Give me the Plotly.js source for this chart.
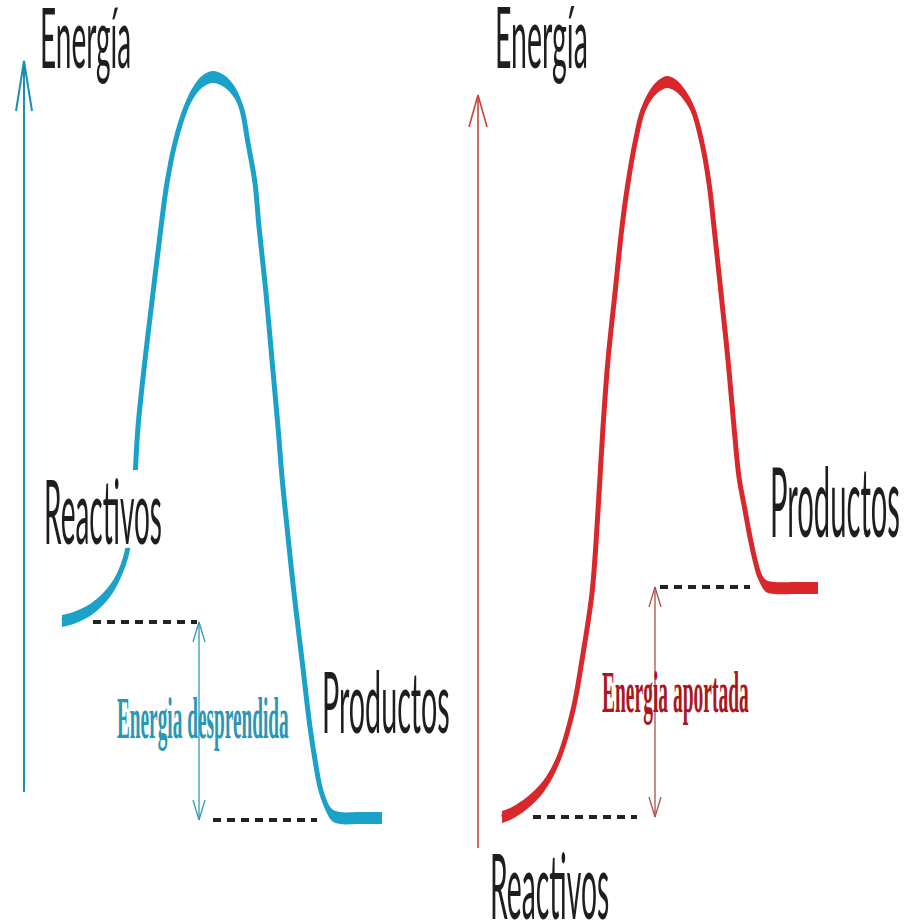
<!DOCTYPE html>
<html>
<head>
<meta charset="utf-8">
<script src="https://cdn.plot.ly/plotly-3.0.1.min.js"></script>
<style>
html,body{margin:0;padding:0;background:#fff;}
#chart{width:915px;height:923px;}
g.annotation text.annotation-text, g.annotation rect.bg{transform-box:fill-box;transform-origin:50% 50%;}
</style>
</head>
<body>
<div id="chart"></div>
<script>
// ---- Data (y grows downward, pixel-like units) ----
// Exothermic reaction path (left, blue)
const blueX = [62,76,90,102,112,120,126,130,133,135,138,145,153,161,167,175,185,193,203,213,224,235,242,248,255,259,266,272,278,282,287,294,302,310,315,320,326,332,340,360,382];
const blueY = [621,617,610,600,588,573,556,535,510,477,427,360,293,227,183,143,110,93,81,77,81,93,110,143,183,227,293,360,427,477,527,593,660,727,760,787,805,815,818,818,818];
// Endothermic reaction path (right, red)
const redX = [502,512,527,543,558,573,582,592,597,600,603,608,615,622,628,635,643,652,660,667,675,683,693,702,709,714,721,728,734,739,745,750,755,760,766,775,795,818];
const redY = [817,813,803,787,760,710,660,593,527,477,427,360,293,227,183,143,110,93,85,82,85,93,110,143,183,227,293,360,427,477,510,537,560,577,586,588,588,588];
// Energy levels (reactants, products)
const blueLevels = [622, 820];
const redLevels = [817, 587];
// Labels
const labelTexts = ["Energía","Energía","Reactivos","Productos","Productos","Reactivos","Energia desprendida","Energia aportada"];

// ---- Styles / layout helpers ----
const BLUE = '#1aa2c9', RED = '#d9272b';
const BLUE_AX = '#1c8db5', RED_AX = '#c9443a';
const BAND = 6; // half vertical thickness of the (vertically stretched) stroke

const traces = [];
function ribbon(xs, ys, color){
  const ln = {width:0, shape:'spline', smoothing:1, color:color};
  traces.push({x:xs, y:ys.map(v=>v-BAND), mode:'lines', line:ln, hoverinfo:'skip'});
  traces.push({x:xs, y:ys.map(v=>v+BAND), mode:'lines', fill:'tonexty', fillcolor:color, line:ln, hoverinfo:'skip'});
  traces.push({x:xs, y:ys, mode:'lines', line:{width:5, shape:'spline', smoothing:1, color:color}, hoverinfo:'skip'});
}
ribbon(blueX, blueY, BLUE);
ribbon(redX, redY, RED);

// Axis arrows (vertical energy axes with open arrowheads)
function axisArrow(x, top, bottom, color, w, wingDx, wingDy){
  traces.push({x:[x,x,null,x-wingDx,x,x+wingDx], y:[bottom,top,null,top+wingDy,top,top+wingDy], mode:'lines', line:{color:color, width:w}, hoverinfo:'skip'});
}
axisArrow(24, 61, 792, BLUE_AX, 2, 8, 50);
axisArrow(478, 95, 848, RED_AX, 1.6, 9, 32);

// Double-headed energy difference arrows, spanning the two levels
function doubleArrow(x, levels, color){
  const top = Math.min(levels[0], levels[1]), bot = Math.max(levels[0], levels[1]);
  const dx = 6, dy = 20;
  traces.push({x:[x,x,null,x-dx,x,x+dx,null,x-dx,x,x+dx],
               y:[top,bot,null,top+dy,top,top+dy,null,bot-dy,bot,bot-dy],
               mode:'lines', line:{color:color, width:1.3}, hoverinfo:'skip'});
}
doubleArrow(199, blueLevels, '#3598b2');
doubleArrow(655, redLevels, '#a9524a');

// Dashed level lines
function dashed(x0, x1, y){
  traces.push({x:[x0,x1], y:[y,y], mode:'lines', line:{color:'#222', width:4, dash:'8px,6px'}, hoverinfo:'skip'});
}
dashed(93, 197, blueLevels[0]);
dashed(213, 317, blueLevels[1]);
dashed(533, 637, redLevels[0]);
dashed(660, 750, redLevels[1]);

// Labels
function sans(size){ return {family:'Lato, "Open Sans", sans-serif', size:size, color:'#1e1e1e'}; }
const labelPos = [
  {x:38, y:35, s:3.0, f:sans(28)},
  {x:493, y:35, s:3.0, f:sans(28.5)},
  {x:42, y:509, s:3.2, f:sans(28), bg:'#ffffff', bs:2.1},
  {x:320, y:700, s:2.95, f:sans(28.7)},
  {x:768, y:498, s:3.35, f:sans(29.2)},
  {x:488, y:884, s:3.2, f:sans(28.3)},
  {x:115, y:717, s:3.1, f:{family:'"Liberation Serif", serif', size:19.3, color:'#2a97b3', weight:'bold'}},
  {x:600, y:692, s:3.0, f:{family:'"Liberation Serif", serif', size:19.5, color:'#a8181c', weight:'bold'}}
];
const annotations = labelTexts.map((t,i)=>({
  text:t, x:labelPos[i].x, y:labelPos[i].y, xref:'x', yref:'y',
  xanchor:'left', yanchor:'middle', showarrow:false,
  bgcolor: labelPos[i].bg || 'rgba(0,0,0,0)',
  font: labelPos[i].f
}));

// vertical stretch of the label text (the reference lettering is stretched vertically)
let css = '';
labelPos.forEach((p,i)=>{
  css += 'g.annotation[data-index="'+i+'"] text.annotation-text{transform:scaleY('+p.s+');}\n';
  css += 'g.annotation[data-index="'+i+'"] rect.bg{transform:scaleY('+(p.bs||p.s)+');}\n';
});
const st = document.createElement('style'); st.textContent = css; document.head.appendChild(st);

const layout = {
  width:915, height:923,
  margin:{l:0,r:0,t:0,b:0},
  paper_bgcolor:'#ffffff', plot_bgcolor:'#ffffff',
  showlegend:false,
  xaxis:{range:[0,915], visible:false, fixedrange:true},
  yaxis:{range:[923,0], visible:false, fixedrange:true},
  annotations:annotations
};
Plotly.newPlot('chart', traces, layout, {staticPlot:true, displayModeBar:false});
</script>
</body>
</html>
